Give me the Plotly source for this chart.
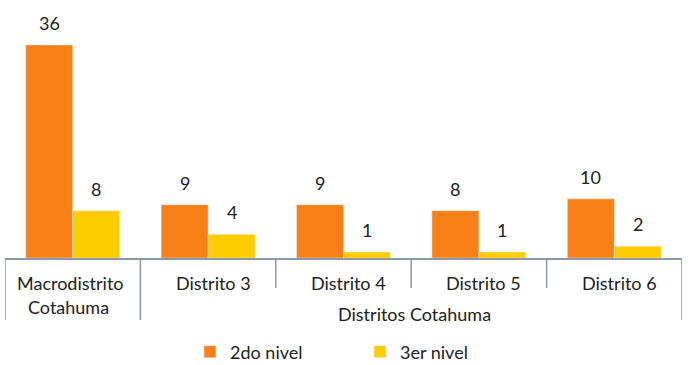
import plotly.graph_objects as go

categories = ["Macrodistrito Cotahuma", "Distrito 3", "Distrito 4", "Distrito 5", "Distrito 6"]
group_label = "Distritos Cotahuma"
series_names = ["2do nivel", "3er nivel"]
nivel2 = [36, 9, 9, 8, 10]
nivel3 = [8, 4, 1, 1, 2]

W, H = 688, 365
ML, MR, MT, MB = 5, 6, 0, 107
PH = H - MT - MB
PW = W - ML - MR
FONT = "Lato"
FS = 18
TXT = "#222222"
LINE = "#8c99a3"

def py(px_below):
    # pixel distance below the axis line -> paper y
    return -px_below / PH

def px_x(x):
    return (x - ML) / PW

fig = go.Figure()
fig.add_bar(x=categories, y=nivel2, name=series_names[0], marker_color="#FA7F17")
fig.add_bar(x=categories, y=nivel3, name=series_names[1], marker_color="#FFCC00")

annotations = []
n = len(categories)
# value labels
for vals, shift in ((nivel2, -23.5), (nivel3, 23.5)):
    for c, v in zip(categories, vals):
        annotations.append(dict(x=c, y=v, xref="x", yref="y", text=str(v), showarrow=False,
                                xshift=shift, yshift=9, yanchor="bottom", xanchor="center",
                                font=dict(family=FONT, size=FS, color=TXT)))
# category labels
def lab(x, ypx, text, xshift):
    return dict(x=x, y=py(ypx), xref="x", yref="paper", text=text, showarrow=False,
                xshift=xshift, xanchor="center", yanchor="middle",
                font=dict(family=FONT, size=FS, color=TXT))

annotations.append(lab(0, 25, "Macrodistrito", -2))
annotations.append(lab(0, 49, "Cotahuma", -4))
for i in range(1, n):
    annotations.append(lab(i, 25, categories[i], 5))
annotations.append(lab((1 + n - 1) / 2, 56, group_label, 3))

shapes = []
for k in range(n + 1):
    xb = k - 0.5
    long = k in (0, 1, n)
    shapes.append(dict(type="line", xref="x", yref="paper", x0=xb, x1=xb, y0=0,
                       y1=py(62 if long else 30), line=dict(color=LINE, width=1.5)))

fig.update_layout(
    width=W, height=H,
    margin=dict(l=ML, r=MR, t=MT, b=MB, autoexpand=False),
    paper_bgcolor="white", plot_bgcolor="white",
    barmode="group", bargap=0.306, bargroupgap=0,
    showlegend=True,
    legend=dict(orientation="h", xref="paper", yref="paper", x=px_x(190), xanchor="left",
                y=py(352 - 258), yanchor="middle", entrywidth=125, entrywidthmode="pixels",
                itemwidth=30,
                font=dict(family=FONT, size=FS, color=TXT), bgcolor="rgba(0,0,0,0)"),
    xaxis=dict(type="category", range=[-0.5, n - 0.5], showticklabels=False, ticks="",
               showline=True, linecolor=LINE, linewidth=1.5, showgrid=False, zeroline=False,
               fixedrange=True),
    yaxis=dict(range=[0, 43.6], visible=False, showgrid=False, zeroline=False, fixedrange=True),
    annotations=annotations,
    shapes=shapes,
    font=dict(family=FONT, size=FS, color=TXT),
)

fig.write_html("out.html", config={"displayModeBar": False},
               post_script="document.body.style.margin='0';")
